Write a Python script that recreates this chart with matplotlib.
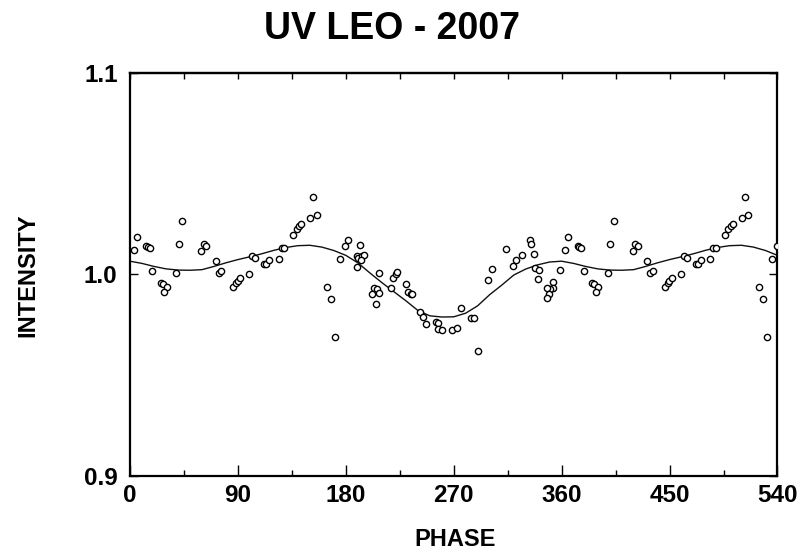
import matplotlib
matplotlib.use("Agg")
import matplotlib.pyplot as plt
from matplotlib.ticker import MultipleLocator
import numpy as np

# Observed points, phase 0-360 (degrees) and relative intensity
phase = [3.1, 5.6, 13.3, 14.8, 16.4, 18.3, 25.6, 27.3, 30.6, 28.4,
         38.4, 40.6, 43.6, 59.2, 61.5, 63.6, 71.5, 74.0, 75.9, 85.9,
         88.4, 89.8, 92.0, 99.2, 101.8, 104.3, 111.8, 113.7, 116.2, 124.0,
         126.5, 128.7, 136.2, 139.0, 141.2, 142.7, 150.1, 155.7, 152.6, 164.3,
         167.9, 171.2, 175.1, 179.3, 182.1, 189.1, 190.4, 189.6, 191.6, 193.7,
         194.9, 192.7, 207.7, 203.5, 206.0, 207.9, 202.1, 204.9, 219.6, 221.6,
         222.7, 217.7, 229.9, 232.1, 234.4, 235.4, 242.1, 244.6, 247.1, 255.0,
         257.1, 256.6, 260.5, 268.8, 272.5, 276.1, 284.2, 286.5, 290.2, 298.3,
         301.9, 313.3, 319.7, 321.7, 326.7, 333.6, 334.2, 336.7, 337.8, 340.9,
         340.5, 352.5, 353.0, 350.3, 347.5, 349.5, 348.0, 359.0]
intensity = [1.0120, 1.0185, 1.0140, 1.0136, 1.0130, 1.0019, 0.9959, 0.9951, 0.9939, 0.9915,
             1.0007, 1.0153, 1.0266, 1.0117, 1.0151, 1.0140, 1.0066, 1.0009, 1.0016, 0.9939,
             0.9956, 0.9969, 0.9981, 1.0001, 1.0092, 1.0082, 1.0054, 1.0051, 1.0070, 1.0077,
             1.0132, 1.0130, 1.0198, 1.0227, 1.0239, 1.0249, 1.0282, 1.0294, 1.0385, 0.9936,
             0.9878, 0.9690, 1.0077, 1.0143, 1.0173, 1.0093, 1.0080, 1.0039, 1.0145, 1.0093,
             1.0097, 1.0070, 1.0009, 0.9932, 0.9928, 0.9908, 0.9902, 0.9855, 0.9984, 1.0001,
             1.0014, 0.9934, 0.9954, 0.9912, 0.9905, 0.9905, 0.9814, 0.9788, 0.9756, 0.9763,
             0.9759, 0.9730, 0.9723, 0.9723, 0.9733, 0.9835, 0.9786, 0.9786, 0.9620, 0.9974,
             1.0027, 1.0127, 1.0044, 1.0073, 1.0097, 1.0171, 1.0150, 1.0103, 1.0034, 1.0021,
             0.9978, 0.9964, 0.9932, 0.9928, 0.9932, 0.9903, 0.9882, 1.0024]

# Fitted curve, one cycle 0-360
curve_phase = [0, 10, 20, 30, 40, 50, 60, 70, 80, 90, 100, 110, 120, 130, 140, 150,
               160, 170, 180, 190, 200, 210, 220, 230, 240, 250, 260, 270, 280, 290,
               300, 310, 320, 330, 340, 350, 360]
curve_intensity = [1.0066, 1.0055, 1.0040, 1.0028, 1.0022, 1.0021, 1.0024, 1.0040, 1.0058,
                   1.0074, 1.0088, 1.0103, 1.0120, 1.0134, 1.0143, 1.0145, 1.0136, 1.0119,
                   1.0095, 1.0058, 1.0008, 0.9960, 0.9915, 0.9870, 0.9822, 0.9795, 0.9789,
                   0.9790, 0.9808, 0.9845, 0.9900, 0.9947, 0.9997, 1.0027, 1.0048, 1.0062,
                   1.0066]

x_ticks = [0, 90, 180, 270, 360, 450, 540]
y_ticks = [0.9, 1.0, 1.1]
y_ticklabels = ["0.9", "1.0", "1.1"]

# extend to 540 degrees by repeating the first half cycle
ph = np.array(phase)
it = np.array(intensity)
mask = ph <= 180
ph_all = np.concatenate([ph, ph[mask] + 360])
it_all = np.concatenate([it, it[mask]])

cp = np.array(curve_phase)
ci = np.array(curve_intensity)
cmask = (cp > 0) & (cp <= 180)
cp_all = np.concatenate([cp, cp[cmask] + 360])
ci_all = np.concatenate([ci, ci[cmask]])

plt.rcParams['font.family'] = ['Liberation Sans', 'DejaVu Sans']
plt.rcParams['font.weight'] = 'bold'

fig = plt.figure(figsize=(8.04, 5.56), dpi=100)
ax = fig.add_axes([0.1617, 0.1439, 0.8053, 0.7248])

ax.plot(cp_all, ci_all, color='#111111', linewidth=1.0, zorder=2)
ax.plot(ph_all, it_all, linestyle='none', marker='o', markersize=4.5,
        markerfacecolor='white', markeredgecolor='black', markeredgewidth=1.0, zorder=3)

ax.set_xlim(0, 540)
ax.set_ylim(0.9, 1.1)
ax.set_xticks(x_ticks)
ax.set_xticklabels([str(t) for t in x_ticks])
ax.xaxis.set_minor_locator(MultipleLocator(45))
ax.set_yticks(y_ticks)
ax.set_yticklabels(y_ticklabels)

for s in ax.spines.values():
    s.set_linewidth(1.6)

ax.tick_params(axis='x', which='major', direction='in', length=8, width=1.0,
               labelsize=17.5, pad=6)
ax.tick_params(axis='x', which='minor', direction='in', length=4, width=1.0)
ax.tick_params(axis='y', which='major', direction='in', length=6, width=1.0,
               labelsize=17.5, pad=9, right=True)

top = ax.secondary_xaxis('top')
top.set_xticks(np.arange(0, 541, 45))
top.tick_params(direction='in', length=4, width=1.0, labeltop=False)
top.spines['top'].set_linewidth(1.6)

for lab in ax.get_xticklabels() + ax.get_yticklabels():
    lab.set_fontweight('bold')

fig.text(0.566, 0.029, 'PHASE', ha='center', va='center', fontsize=17, fontweight='bold')
fig.text(0.035, 0.505, 'INTENSITY', ha='center', va='center', rotation=90,
         fontsize=17, fontweight='bold')
fig.text(0.488, 0.947, 'UV LEO - 2007', ha='center', va='center', fontsize=27,
         fontweight='bold')

fig.savefig('out.png', dpi=100)
